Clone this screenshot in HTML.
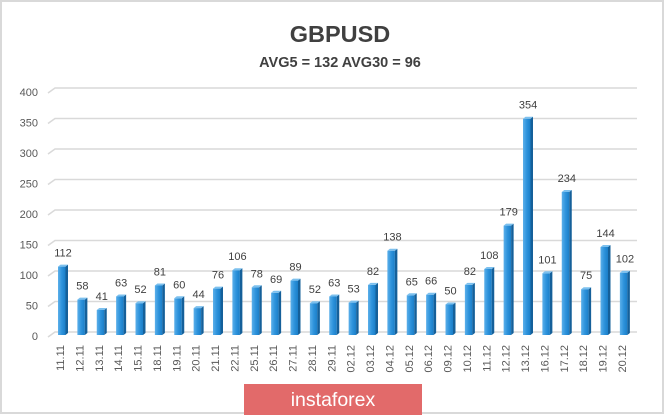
<!DOCTYPE html>
<html><head><meta charset="utf-8"><style>
html,body{margin:0;padding:0;background:#fff;}
svg{display:block;}
text{font-family:"Liberation Sans",sans-serif;}
.v{font-size:11px;fill:#404040;text-anchor:middle;}
.x{font-size:11px;fill:#595959;text-anchor:end;}
.y{font-size:11px;fill:#595959;text-anchor:end;}
</style></head><body>
<svg width="665" height="415" viewBox="0 0 665 415" xmlns="http://www.w3.org/2000/svg">
<defs>
<linearGradient id="f" x1="0" y1="0" x2="1" y2="0">
<stop offset="0" stop-color="#5cb0ea"/><stop offset="0.5" stop-color="#2e93dc"/><stop offset="1" stop-color="#1a7ec8"/>
</linearGradient>
</defs>
<rect x="0" y="0" width="665" height="415" fill="#fff"/>
<rect x="1" y="1" width="662" height="412" fill="none" stroke="#d9d9d9" stroke-width="2"/>
<text x="340" y="42" font-size="23.5" font-weight="bold" fill="#404040" text-anchor="middle">GBPUSD</text>
<text x="340" y="67" font-size="14.5" font-weight="bold" fill="#404040" text-anchor="middle">AVG5 = 132 AVG30 = 96</text>
<g stroke="#d9d9d9" stroke-width="1.5" fill="none">
<polyline points="48,337 55,332 637,332"/>
<polyline points="48,306.5 55,301.5 637,301.5"/>
<polyline points="48,276 55,271 637,271"/>
<polyline points="48,245.5 55,240.5 637,240.5"/>
<polyline points="48,215 55,210 637,210"/>
<polyline points="48,184.5 55,179.5 637,179.5"/>
<polyline points="48,154 55,149 637,149"/>
<polyline points="48,123.5 55,118.5 637,118.5"/>
<polyline points="48,93 55,88 637,88"/>
</g>
<g class="yl">
<text class="y" x="38" y="340">0</text>
<text class="y" x="38" y="309.5">50</text>
<text class="y" x="38" y="279">100</text>
<text class="y" x="38" y="248.5">150</text>
<text class="y" x="38" y="218">200</text>
<text class="y" x="38" y="187.5">250</text>
<text class="y" x="38" y="157">300</text>
<text class="y" x="38" y="126.5">350</text>
<text class="y" x="38" y="96">400</text>
</g>

<g transform="translate(58,0)"><rect x="0" y="266.6" width="7.5" height="68.4" fill="url(#f)"/><polygon points="7.5,266.6 10,264.6 10,333 7.5,335" fill="#15609a"/><polygon points="0,266.6 2.5,264.6 10,264.6 7.5,266.6" fill="#7cc0ee"/><text class="v" x="5" y="256.6">112</text><text class="x" transform="translate(6,345) rotate(-90)">11.11</text></g>
<g transform="translate(77.375,0)"><rect x="0" y="299.6" width="7.5" height="35.4" fill="url(#f)"/><polygon points="7.5,299.6 10,297.6 10,333 7.5,335" fill="#15609a"/><polygon points="0,299.6 2.5,297.6 10,297.6 7.5,299.6" fill="#7cc0ee"/><text class="v" x="5" y="289.6">58</text><text class="x" transform="translate(6,345) rotate(-90)">12.11</text></g>
<g transform="translate(96.75,0)"><rect x="0" y="310" width="7.5" height="25" fill="url(#f)"/><polygon points="7.5,310 10,308 10,333 7.5,335" fill="#15609a"/><polygon points="0,310 2.5,308 10,308 7.5,310" fill="#7cc0ee"/><text class="v" x="5" y="300">41</text><text class="x" transform="translate(6,345) rotate(-90)">13.11</text></g>
<g transform="translate(116.125,0)"><rect x="0" y="296.5" width="7.5" height="38.5" fill="url(#f)"/><polygon points="7.5,296.5 10,294.5 10,333 7.5,335" fill="#15609a"/><polygon points="0,296.5 2.5,294.5 10,294.5 7.5,296.5" fill="#7cc0ee"/><text class="v" x="5" y="286.5">63</text><text class="x" transform="translate(6,345) rotate(-90)">14.11</text></g>
<g transform="translate(135.5,0)"><rect x="0" y="303.2" width="7.5" height="31.8" fill="url(#f)"/><polygon points="7.5,303.2 10,301.2 10,333 7.5,335" fill="#15609a"/><polygon points="0,303.2 2.5,301.2 10,301.2 7.5,303.2" fill="#7cc0ee"/><text class="v" x="5" y="293.2">52</text><text class="x" transform="translate(6,345) rotate(-90)">15.11</text></g>
<g transform="translate(154.875,0)"><rect x="0" y="285.5" width="7.5" height="49.5" fill="url(#f)"/><polygon points="7.5,285.5 10,283.5 10,333 7.5,335" fill="#15609a"/><polygon points="0,285.5 2.5,283.5 10,283.5 7.5,285.5" fill="#7cc0ee"/><text class="v" x="5" y="275.5">81</text><text class="x" transform="translate(6,345) rotate(-90)">18.11</text></g>
<g transform="translate(174.25,0)"><rect x="0" y="298.3" width="7.5" height="36.7" fill="url(#f)"/><polygon points="7.5,298.3 10,296.3 10,333 7.5,335" fill="#15609a"/><polygon points="0,298.3 2.5,296.3 10,296.3 7.5,298.3" fill="#7cc0ee"/><text class="v" x="5" y="288.3">60</text><text class="x" transform="translate(6,345) rotate(-90)">19.11</text></g>
<g transform="translate(193.625,0)"><rect x="0" y="308.1" width="7.5" height="26.9" fill="url(#f)"/><polygon points="7.5,308.1 10,306.1 10,333 7.5,335" fill="#15609a"/><polygon points="0,308.1 2.5,306.1 10,306.1 7.5,308.1" fill="#7cc0ee"/><text class="v" x="5" y="298.1">44</text><text class="x" transform="translate(6,345) rotate(-90)">20.11</text></g>
<g transform="translate(213,0)"><rect x="0" y="288.6" width="7.5" height="46.4" fill="url(#f)"/><polygon points="7.5,288.6 10,286.6 10,333 7.5,335" fill="#15609a"/><polygon points="0,288.6 2.5,286.6 10,286.6 7.5,288.6" fill="#7cc0ee"/><text class="v" x="5" y="278.6">76</text><text class="x" transform="translate(6,345) rotate(-90)">21.11</text></g>
<g transform="translate(232.375,0)"><rect x="0" y="270.2" width="7.5" height="64.8" fill="url(#f)"/><polygon points="7.5,270.2 10,268.2 10,333 7.5,335" fill="#15609a"/><polygon points="0,270.2 2.5,268.2 10,268.2 7.5,270.2" fill="#7cc0ee"/><text class="v" x="5" y="260.2">106</text><text class="x" transform="translate(6,345) rotate(-90)">22.11</text></g>
<g transform="translate(251.75,0)"><rect x="0" y="287.3" width="7.5" height="47.7" fill="url(#f)"/><polygon points="7.5,287.3 10,285.3 10,333 7.5,335" fill="#15609a"/><polygon points="0,287.3 2.5,285.3 10,285.3 7.5,287.3" fill="#7cc0ee"/><text class="v" x="5" y="277.3">78</text><text class="x" transform="translate(6,345) rotate(-90)">25.11</text></g>
<g transform="translate(271.125,0)"><rect x="0" y="292.8" width="7.5" height="42.2" fill="url(#f)"/><polygon points="7.5,292.8 10,290.8 10,333 7.5,335" fill="#15609a"/><polygon points="0,292.8 2.5,290.8 10,290.8 7.5,292.8" fill="#7cc0ee"/><text class="v" x="5" y="282.8">69</text><text class="x" transform="translate(6,345) rotate(-90)">26.11</text></g>
<g transform="translate(290.5,0)"><rect x="0" y="280.6" width="7.5" height="54.4" fill="url(#f)"/><polygon points="7.5,280.6 10,278.6 10,333 7.5,335" fill="#15609a"/><polygon points="0,280.6 2.5,278.6 10,278.6 7.5,280.6" fill="#7cc0ee"/><text class="v" x="5" y="270.6">89</text><text class="x" transform="translate(6,345) rotate(-90)">27.11</text></g>
<g transform="translate(309.875,0)"><rect x="0" y="303.2" width="7.5" height="31.8" fill="url(#f)"/><polygon points="7.5,303.2 10,301.2 10,333 7.5,335" fill="#15609a"/><polygon points="0,303.2 2.5,301.2 10,301.2 7.5,303.2" fill="#7cc0ee"/><text class="v" x="5" y="293.2">52</text><text class="x" transform="translate(6,345) rotate(-90)">28.11</text></g>
<g transform="translate(329.25,0)"><rect x="0" y="296.5" width="7.5" height="38.5" fill="url(#f)"/><polygon points="7.5,296.5 10,294.5 10,333 7.5,335" fill="#15609a"/><polygon points="0,296.5 2.5,294.5 10,294.5 7.5,296.5" fill="#7cc0ee"/><text class="v" x="5" y="286.5">63</text><text class="x" transform="translate(6,345) rotate(-90)">29.11</text></g>
<g transform="translate(348.625,0)"><rect x="0" y="302.6" width="7.5" height="32.4" fill="url(#f)"/><polygon points="7.5,302.6 10,300.6 10,333 7.5,335" fill="#15609a"/><polygon points="0,302.6 2.5,300.6 10,300.6 7.5,302.6" fill="#7cc0ee"/><text class="v" x="5" y="292.6">53</text><text class="x" transform="translate(6,345) rotate(-90)">02.12</text></g>
<g transform="translate(368,0)"><rect x="0" y="284.9" width="7.5" height="50.1" fill="url(#f)"/><polygon points="7.5,284.9 10,282.9 10,333 7.5,335" fill="#15609a"/><polygon points="0,284.9 2.5,282.9 10,282.9 7.5,284.9" fill="#7cc0ee"/><text class="v" x="5" y="274.9">82</text><text class="x" transform="translate(6,345) rotate(-90)">03.12</text></g>
<g transform="translate(387.375,0)"><rect x="0" y="250.7" width="7.5" height="84.3" fill="url(#f)"/><polygon points="7.5,250.7 10,248.7 10,333 7.5,335" fill="#15609a"/><polygon points="0,250.7 2.5,248.7 10,248.7 7.5,250.7" fill="#7cc0ee"/><text class="v" x="5" y="240.7">138</text><text class="x" transform="translate(6,345) rotate(-90)">04.12</text></g>
<g transform="translate(406.75,0)"><rect x="0" y="295.3" width="7.5" height="39.7" fill="url(#f)"/><polygon points="7.5,295.3 10,293.3 10,333 7.5,335" fill="#15609a"/><polygon points="0,295.3 2.5,293.3 10,293.3 7.5,295.3" fill="#7cc0ee"/><text class="v" x="5" y="285.3">65</text><text class="x" transform="translate(6,345) rotate(-90)">05.12</text></g>
<g transform="translate(426.125,0)"><rect x="0" y="294.7" width="7.5" height="40.3" fill="url(#f)"/><polygon points="7.5,294.7 10,292.7 10,333 7.5,335" fill="#15609a"/><polygon points="0,294.7 2.5,292.7 10,292.7 7.5,294.7" fill="#7cc0ee"/><text class="v" x="5" y="284.7">66</text><text class="x" transform="translate(6,345) rotate(-90)">06.12</text></g>
<g transform="translate(445.5,0)"><rect x="0" y="304.5" width="7.5" height="30.5" fill="url(#f)"/><polygon points="7.5,304.5 10,302.5 10,333 7.5,335" fill="#15609a"/><polygon points="0,304.5 2.5,302.5 10,302.5 7.5,304.5" fill="#7cc0ee"/><text class="v" x="5" y="294.5">50</text><text class="x" transform="translate(6,345) rotate(-90)">09.12</text></g>
<g transform="translate(464.875,0)"><rect x="0" y="284.9" width="7.5" height="50.1" fill="url(#f)"/><polygon points="7.5,284.9 10,282.9 10,333 7.5,335" fill="#15609a"/><polygon points="0,284.9 2.5,282.9 10,282.9 7.5,284.9" fill="#7cc0ee"/><text class="v" x="5" y="274.9">82</text><text class="x" transform="translate(6,345) rotate(-90)">10.12</text></g>
<g transform="translate(484.25,0)"><rect x="0" y="269" width="7.5" height="66" fill="url(#f)"/><polygon points="7.5,269 10,267 10,333 7.5,335" fill="#15609a"/><polygon points="0,269 2.5,267 10,267 7.5,269" fill="#7cc0ee"/><text class="v" x="5" y="259">108</text><text class="x" transform="translate(6,345) rotate(-90)">11.12</text></g>
<g transform="translate(503.625,0)"><rect x="0" y="225.6" width="7.5" height="109.4" fill="url(#f)"/><polygon points="7.5,225.6 10,223.6 10,333 7.5,335" fill="#15609a"/><polygon points="0,225.6 2.5,223.6 10,223.6 7.5,225.6" fill="#7cc0ee"/><text class="v" x="5" y="215.6">179</text><text class="x" transform="translate(6,345) rotate(-90)">12.12</text></g>
<g transform="translate(523,0)"><rect x="0" y="118.7" width="7.5" height="216.3" fill="url(#f)"/><polygon points="7.5,118.7 10,116.7 10,333 7.5,335" fill="#15609a"/><polygon points="0,118.7 2.5,116.7 10,116.7 7.5,118.7" fill="#7cc0ee"/><text class="v" x="5" y="108.7">354</text><text class="x" transform="translate(6,345) rotate(-90)">13.12</text></g>
<g transform="translate(542.375,0)"><rect x="0" y="273.3" width="7.5" height="61.7" fill="url(#f)"/><polygon points="7.5,273.3 10,271.3 10,333 7.5,335" fill="#15609a"/><polygon points="0,273.3 2.5,271.3 10,271.3 7.5,273.3" fill="#7cc0ee"/><text class="v" x="5" y="263.3">101</text><text class="x" transform="translate(6,345) rotate(-90)">16.12</text></g>
<g transform="translate(561.75,0)"><rect x="0" y="192" width="7.5" height="143" fill="url(#f)"/><polygon points="7.5,192 10,190 10,333 7.5,335" fill="#15609a"/><polygon points="0,192 2.5,190 10,190 7.5,192" fill="#7cc0ee"/><text class="v" x="5" y="182">234</text><text class="x" transform="translate(6,345) rotate(-90)">17.12</text></g>
<g transform="translate(581.125,0)"><rect x="0" y="289.2" width="7.5" height="45.8" fill="url(#f)"/><polygon points="7.5,289.2 10,287.2 10,333 7.5,335" fill="#15609a"/><polygon points="0,289.2 2.5,287.2 10,287.2 7.5,289.2" fill="#7cc0ee"/><text class="v" x="5" y="279.2">75</text><text class="x" transform="translate(6,345) rotate(-90)">18.12</text></g>
<g transform="translate(600.5,0)"><rect x="0" y="247" width="7.5" height="88" fill="url(#f)"/><polygon points="7.5,247 10,245 10,333 7.5,335" fill="#15609a"/><polygon points="0,247 2.5,245 10,245 7.5,247" fill="#7cc0ee"/><text class="v" x="5" y="237">144</text><text class="x" transform="translate(6,345) rotate(-90)">19.12</text></g>
<g transform="translate(619.875,0)"><rect x="0" y="272.7" width="7.5" height="62.3" fill="url(#f)"/><polygon points="7.5,272.7 10,270.7 10,333 7.5,335" fill="#15609a"/><polygon points="0,272.7 2.5,270.7 10,270.7 7.5,272.7" fill="#7cc0ee"/><text class="v" x="5" y="262.7">102</text><text class="x" transform="translate(6,345) rotate(-90)">20.12</text></g>

<rect x="244" y="384" width="178" height="31" fill="#e26a6a"/>
<text x="333" y="406" font-size="19.5" fill="#ffffff" text-anchor="middle">instaforex</text>
</svg>
</body></html>
